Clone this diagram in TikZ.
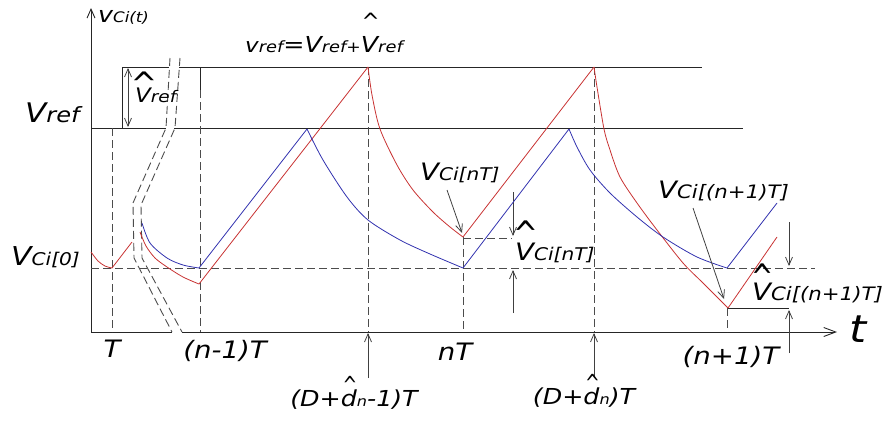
\documentclass[tikz,border=0pt]{standalone}
\usepackage{graphicx}
\usepackage{fontspec}
\setmainfont{DejaVu Sans}[FakeStretch=1.15]
\newfontfamily\hatfont{DejaVu Sans}
\usetikzlibrary{arrows.meta}
\definecolor{wred}{RGB}{200,50,50}
\definecolor{wblue}{RGB}{50,50,175}
\newcommand\fs[2]{{\fontsize{#1}{#1}\selectfont #2}}
% #1 raise, #2 hat size, #3 horizontal scale, #4 vertical scale, #5 letter
\newcommand\hatted[5]{\leavevmode\setbox0\hbox{#5}\rlap{\hbox to \wd0{\hss\hskip2pt\raisebox{#1}[0pt][0pt]{\scalebox{#3}[#4]{\fs{#2}{\hatfont\textasciicircum}}}\hss}}\box0}
\begin{document}
\begin{tikzpicture}[x=1pt,y=-1pt,
  solidln/.style={draw=black!85, line width=0.9pt},
  dashln/.style={draw=black!70, line width=0.9pt, dash pattern=on 8pt off 4pt},
  arr/.style={draw=black!75, line width=0.8pt, -{Straight Barb[length=8pt,width=7pt]}},
  wave/.style={line width=0.8pt, line join=round},
  lbl/.style={inner sep=0pt, font=\itshape, text=black}]
\useasboundingbox (0,0) rectangle (888,423);
% key coordinates
\coordinate (O) at (91,332);
\coordinate (Ytop) at (91,8);
\coordinate (Xa) at (172,332);
\coordinate (Xb) at (182,332);
\coordinate (Xend) at (837,332);
\coordinate (Ta) at (122,67);
\coordinate (Tb) at (169,67);
\coordinate (Tc) at (179,67);
\coordinate (Td) at (702,67);
\coordinate (Ra) at (91,128);
\coordinate (Rb) at (166,128);
\coordinate (Rc) at (174,128);
\coordinate (Rd) at (743,128);
\coordinate (Tv) at (122,128);
% axes
\draw[solidln, -{Straight Barb[length=9pt,width=8pt]}] (O) -- (Ytop);
\draw[solidln] (O) -- (Xa);
\draw[solidln, -{Straight Barb[length=12pt,width=9pt]}] (Xb) -- (Xend);
% horizontal reference lines
\draw[solidln] (Ta) -- (Tb);
\draw[solidln] (Tc) -- (Td);
\draw[solidln] (Ra) -- (Rb);
\draw[solidln] (Rc) -- (Rd);
\draw[solidln] (Ta) -- (Tv);
% double arrow Vref hat
\coordinate (Da) at (128,68);
\coordinate (Db) at (128,127);
\draw[arr, {Straight Barb[length=8pt,width=7pt]}-{Straight Barb[length=8pt,width=7pt]}] (Da) -- (Db);
% dashed horizontal V_Ci[0]
\coordinate (Ha) at (91,268);
\coordinate (Hb) at (815,268);
\draw[dashln] (Ha) -- (Hb);
% verticals
\coordinate (Va1) at (112,128); \coordinate (Va2) at (112,332);
\draw[dashln] (Va1) -- (Va2);
\coordinate (Vb1) at (200,67); \coordinate (Vb2) at (200,90); \coordinate (Vb3) at (200,332);
\draw[solidln] (Vb1) -- (Vb2);
\draw[dashln] (Vb2) -- (Vb3);
\coordinate (Vc1) at (368,67); \coordinate (Vc2) at (368,332);
\draw[dashln] (Vc1) -- (Vc2);
\coordinate (Vd1) at (463,237); \coordinate (Vd2) at (463,332);
\draw[dashln] (Vd1) -- (Vd2);
\coordinate (Ve1) at (594,67); \coordinate (Ve2) at (594,332);
\draw[dashln] (Ve1) -- (Ve2);
\coordinate (Vf1) at (727,308); \coordinate (Vf2) at (727,332);
\draw[dashln] (Vf1) -- (Vf2);
\coordinate (Hn1) at (463,238); \coordinate (Hn2) at (512,238);
\draw[dashln] (Hn1) -- (Hn2);
\coordinate (Hm1) at (728,308); \coordinate (Hm2) at (789,308);
\draw[solidln, line width=0.8pt] (Hm1) -- (Hm2);
% break lines
\draw[dashln] (170,58) -- (166,128) -- (133,203) -- (134,258) -- (172,332);
\draw[dashln] (180,58) -- (175,128) -- (141,205) -- (142,258) -- (182,332);
% measurement arrows
\coordinate (A1a) at (513,192); \coordinate (A1b) at (513,236);
\coordinate (A2a) at (513,313); \coordinate (A2b) at (513,270);
\coordinate (A3a) at (789,222); \coordinate (A3b) at (789,266);
\coordinate (A4a) at (789,353); \coordinate (A4b) at (789,310);
\coordinate (A5a) at (368,378); \coordinate (A5b) at (368,333);
\coordinate (A6a) at (594,378); \coordinate (A6b) at (594,333);
\draw[arr] (A1a) -- (A1b);
\draw[arr] (A2a) -- (A2b);
\draw[arr] (A3a) -- (A3b);
\draw[arr] (A4a) -- (A4b);
\draw[arr] (A5a) -- (A5b);
\draw[arr] (A6a) -- (A6b);
% waveforms
\draw[wave, wred] plot[smooth] coordinates {(91,252) (98,261) (105,266) (112,268)} -- (132,242);
\draw[wave, wred] plot[smooth] coordinates {(140,232) (146,246) (155,258) (167,267) (183,277) (199,284)}
  -- (368,67);
\draw[wave, wred] plot[smooth] coordinates {(368,67) (372,95) (380,129) (397,165) (413,190) (433,212) (450,227) (463,237)}
  -- (594,67);
\draw[wave, wred] plot[smooth] coordinates {(594,67) (597,87) (604,129) (610,150) (620,177) (637,203) (657,230) (683,263) (703,283) (728,308)}
  -- (777,237);
\draw[wave, wblue] plot[smooth] coordinates {(142,223) (150,243) (167,258) (183,265) (199,268)} -- (307,129);
\draw[wave, wblue] plot[smooth] coordinates {(307,129) (323,160) (347,197) (368,220) (400,240) (430,254) (463,268)} -- (569,129);
\draw[wave, wblue] plot[smooth] coordinates {(569,129) (577,147) (590,170) (610,193) (637,217) (663,237) (697,257) (727,268)} -- (777,203);
% labels
\node[lbl, anchor=base west] (lvt) at (98,22) {\fs{22}{v}\fs{14.5}{Ci(t)}};
\node[lbl, anchor=base west] (leq) at (245,52) {\fs{20}{v}\fs{15.5}{ref}\fs{22}{=}\fs{22}{V}\fs{15.5}{ref}\fs{15}{+}\hatted{23pt}{18}{1.2}{1.25}{\fs{22}{V}}\fs{15.5}{ref}};
\node[lbl, anchor=base west] (lvref) at (25,122) {\fs{27}{V}\fs{21}{ref}};
\node[lbl, anchor=base west] (lvhat) at (135,102) {\hatted{7pt}{22}{1.45}{1.47}{\fs{20}{V}}\fs{16}{ref}};
\node[lbl, anchor=base west] (lv0) at (11,265) {\fs{26}{V}\fs{17.5}{Ci[0]}};
\node[lbl, anchor=base west] (lvn) at (420,180) {\fs{24}{V}\fs{17.5}{Ci[nT]}};
\node[lbl, anchor=base west] (lvnh) at (515,260) {\hatted{14pt}{22}{1.35}{1.6}{\fs{24}{V}}\fs{17.5}{Ci[nT]}};
\node[lbl, anchor=base west] (lvn1) at (658,198) {\fs{24}{V}\fs{18.5}{Ci[(n+1)T]}};
\node[lbl, anchor=base west] (lvn1h) at (752,300) {\hatted{11pt}{22}{1.2}{1.6}{\fs{24}{V}}\fs{18.5}{Ci[(n+1)T]}};
\node[lbl, anchor=base west] (lt) at (849,342) {\fs{38}{t}};
\node[lbl, anchor=base] (lT) at (112,357) {\fs{24}{T}};
\node[lbl, anchor=base] (ln1) at (225,358) {\fs{24}{(n-1)T}};
\node[lbl, anchor=base] (lnT) at (455,360) {\fs{24}{nT}};
\node[lbl, anchor=base] (lnp1) at (731,364) {\fs{24}{(n+1)T}};
\node[lbl, anchor=base] (lD1) at (354,406) {\fs{22}{(D+}\hatted{13pt}{16}{1.1}{1.47}{\fs{22}{d}}\fs{14}{n}\fs{22}{-1)T}};
\node[lbl, anchor=base] (lD2) at (584,404) {\fs{22}{(D+}\hatted{13pt}{16}{1.1}{1.47}{\fs{22}{d}}\fs{14}{n}\fs{22}{)T}};
% pointer arrows
\coordinate (P1a) at (447,190); \coordinate (P1b) at (462,233);
\coordinate (P2a) at (693,208); \coordinate (P2b) at (724,299);
\draw[arr] (P1a) -- (P1b);
\draw[arr] (P2a) -- (P2b);
\end{tikzpicture}
\end{document}
